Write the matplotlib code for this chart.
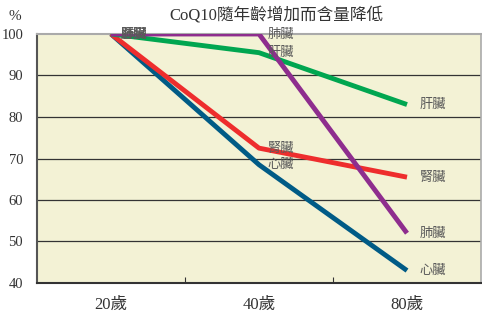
import matplotlib.pyplot as plt

plt.rcParams['font.family'] = ['Liberation Serif', 'Noto Sans CJK TC', 'DejaVu Sans']

ages = ['20歲', '40歲', '80歲']
organs = ['肝臟', '肺臟', '腎臟', '心臟']
liver = [100, 95.5, 83]
lung = [100, 100, 52]
kidney = [100, 72.5, 65.5]
heart = [100, 68.5, 43]
series = [liver, lung, kidney, heart]
colors = ['#00A650', '#8E2D8E', '#EE2D2D', '#005B86']

fig = plt.figure(figsize=(4.82, 3.18), dpi=100)
ax = fig.add_axes([37/482, 1-283/318, 444/482, 249/318])
ax.set_facecolor('#F3F2D5')

x = list(range(len(ages)))
# draw order: heart, kidney, green, purple on top
for i in [3, 2, 0, 1]:
    ax.plot(x, series[i], color=colors[i], linewidth=3.5, solid_capstyle='butt', zorder=3)

offsets = [7, 6, 9]
for i in range(4):
    for j in range(3):
        ax.annotate(organs[i], (x[j], series[i][j]), xytext=(offsets[j], 0), textcoords='offset points',
                    ha='left', va='center', fontsize=9.5, color='#5a5a5a',
                    family=['Noto Sans CJK TC'], zorder=4)

ax.set_xlim(-0.5, 2.5)
ax.set_ylim(40, 100)
ax.set_yticks(range(40, 101, 10))
ax.tick_params(axis='y', length=0, labelsize=10.5, labelcolor='#333333', pad=10)
ax.set_xticks([0.5, 1.5])
ax.set_xticklabels([])
ax.tick_params(axis='x', direction='in', length=4, color='#333333')
for j, a in enumerate(ages):
    ax.text(j, 34.8, a, ha='center', va='center', fontsize=12, color='#333333')

for yv in range(50, 100, 10):
    ax.axhline(yv, color='#333333', linewidth=0.9, zorder=1)
ax.spines['left'].set_color('#555555')
ax.spines['left'].set_linewidth(1.5)
ax.spines['bottom'].set_color('#333333')
ax.spines['bottom'].set_linewidth(1.5)
ax.spines['top'].set_color('#AAAAAA')
ax.spines['top'].set_linewidth(1.5)
ax.spines['right'].set_color('#AAAAAA')
ax.spines['right'].set_linewidth(1.2)

fig.text(15/482, 1-17/318, '%', fontsize=11, color='#333333', ha='center', va='center')
fig.text(276/482, 1-15/318, 'CoQ10隨年齡增加而含量降低', fontsize=12, color='#333333',
         ha='center', va='center')

fig.savefig('out.png', dpi=100)
